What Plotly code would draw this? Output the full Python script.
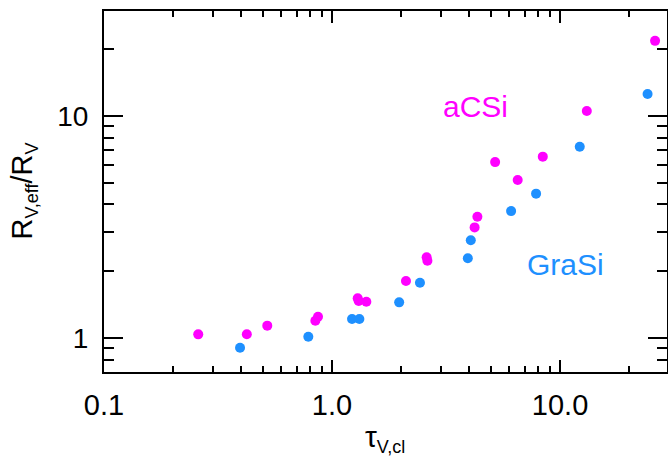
import plotly.graph_objects as go

# aCSi (magenta) points
acsi_tau = [0.259, 0.423, 0.520, 0.845, 0.868, 1.296, 1.309, 1.414, 2.11, 2.60, 2.62, 4.22, 4.34, 5.19, 6.52, 8.40, 13.1, 26.1]
acsi_r = [1.039, 1.04, 1.137, 1.197, 1.247, 1.509, 1.468, 1.457, 1.806, 2.31, 2.23, 3.15, 3.52, 6.2, 5.15, 6.56, 10.53, 21.8]

# GraSi (blue) points
grasi_tau = [0.395, 0.787, 1.224, 1.318, 1.97, 2.43, 3.94, 4.06, 6.10, 7.85, 12.2, 24.2]
grasi_r = [0.904, 1.014, 1.218, 1.218, 1.448, 1.775, 2.286, 2.755, 3.73, 4.47, 7.27, 12.56]

x_tickvals = [0.1, 1, 10]
x_ticktext = ["0.1", "1.0", "10.0"]
y_tickvals = [1, 10]
y_ticktext = ["1", "10"]
x_minor_vals = [0.2, 0.3, 0.4, 0.5, 0.6, 0.7, 0.8, 0.9, 2, 3, 4, 5, 6, 7, 8, 9, 20]
y_minor_vals = [0.8, 0.9, 2, 3, 4, 5, 6, 7, 8, 9, 20]

MAG = "#FF00FF"
BLUE = "#1E90FF"
FONT = "Liberation Sans, Arial, sans-serif"

X_RANGE = [-1, 1.469]
Y_RANGE = [-0.153, 1.473]

fig = go.Figure()
fig.add_trace(go.Scatter(x=acsi_tau, y=acsi_r, mode="markers", name="aCSi",
                         marker=dict(color=MAG, size=10, line=dict(width=0))))
fig.add_trace(go.Scatter(x=grasi_tau, y=grasi_r, mode="markers", name="GraSi",
                         marker=dict(color=BLUE, size=10, line=dict(width=0))))
# invisible trace to anchor the minor-tick overlay axes
fig.add_trace(go.Scatter(x=grasi_tau, y=grasi_r, mode="markers", xaxis="x2", yaxis="y2",
                         marker=dict(opacity=0), hoverinfo="skip", showlegend=False))

fig.add_annotation(x=0.627, y=1.045, xref="x", yref="y", text="aCSi", showarrow=False,
                   font=dict(color=MAG, size=30, family=FONT), xanchor="center", yanchor="middle")
fig.add_annotation(x=1.026, y=0.329, xref="x", yref="y", text="GraSi", showarrow=False,
                   font=dict(color=BLUE, size=30, family=FONT), xanchor="center", yanchor="middle")

# axis titles
fig.add_annotation(x=0.499, y=0, xref="paper", yref="paper", yshift=-66, showarrow=False,
                   text="τ<sub><span style='font-size:18px'>V,cl</span></sub>",
                   font=dict(size=30, color="black", family=FONT), xanchor="center", yanchor="middle")
fig.add_annotation(x=0, y=0.5, xref="paper", yref="paper", xshift=-81, showarrow=False, textangle=-90,
                   text="R<sub><span style='font-size:18px'>V,eff</span></sub>/R<sub><span style='font-size:18px'>V</span></sub>",
                   font=dict(size=29, color="black", family=FONT), xanchor="center", yanchor="middle")

line_common = dict(showline=True, linecolor="black", linewidth=2, mirror="ticks",
                   ticks="inside", tickcolor="black", tickwidth=2,
                   showgrid=False, zeroline=False, automargin=False)

fig.update_layout(
    width=668, height=456,
    margin=dict(l=104, r=1, t=11, b=84),
    plot_bgcolor="white", paper_bgcolor="white",
    showlegend=False,
    font=dict(family=FONT, color="black"),
    xaxis=dict(type="log", range=X_RANGE, tickvals=x_tickvals, ticktext=x_ticktext, ticklen=12,
               ticklabelstandoff=6, tickfont=dict(size=29, color="black", family=FONT), **line_common),
    yaxis=dict(type="log", range=Y_RANGE, tickvals=y_tickvals, ticktext=y_ticktext, ticklen=19,
               ticklabelstandoff=8, tickfont=dict(size=28, color="black", family=FONT), **line_common),
    xaxis2=dict(type="log", range=X_RANGE, overlaying="x", anchor="y2", side="bottom",
                tickvals=x_minor_vals, ticklen=6, showticklabels=False, **line_common),
    yaxis2=dict(type="log", range=Y_RANGE, overlaying="y", anchor="x2", side="left",
                tickvals=y_minor_vals, ticklen=10, showticklabels=False, **line_common),
)

fig.write_html("out.html", config={"displayModeBar": False},
               post_script="document.body.style.margin='0';document.body.style.overflow='hidden';")
